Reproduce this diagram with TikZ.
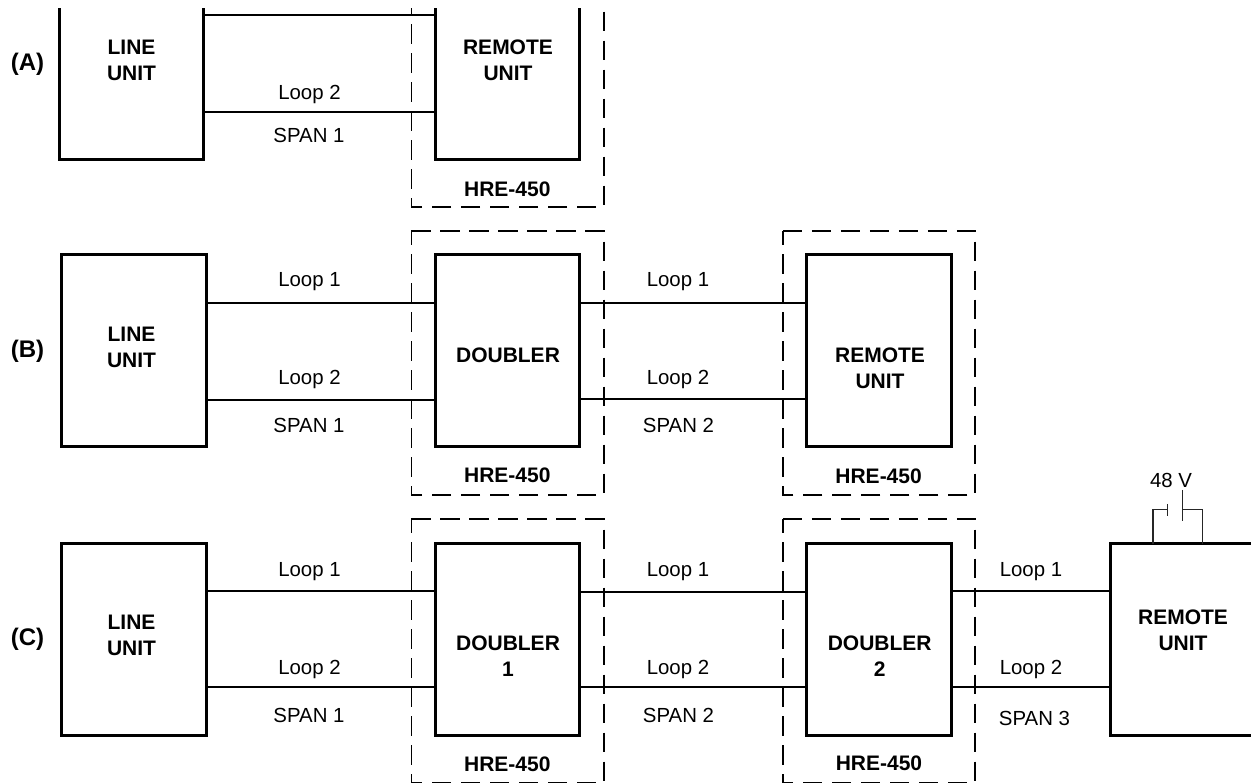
\documentclass[tikz,border=0pt]{standalone}
\usepackage{fontspec}
\setmainfont{Liberation Sans}
\tikzset{
  x=1pt,y=-1pt,
  unitbox/.style={draw=black,line width=3pt,outer sep=0pt,inner sep=0pt,minimum width=145pt,minimum height=192pt,anchor=north west},
  narrowbox/.style={unitbox,minimum width=144pt},
  wire/.style={draw=black,line width=1.9pt},
  thinwire/.style={draw=black!85,line width=1.3pt},
  dashnode/.style={outer sep=0pt,inner sep=0pt,minimum width=192.3pt,minimum height=264pt,anchor=north west},
  dashline/.style={draw=black,line width=1.8pt,dash pattern=on 19.5pt off 9.5pt},
  lbl/.style={font=\fontsize{20.4}{26}\selectfont,inner sep=0pt},
  blbl/.style={font=\fontsize{21}{26}\selectfont\bfseries,inner sep=0pt,align=center},
  rowlbl/.style={font=\fontsize{24}{26}\selectfont\bfseries,inner sep=0pt},
}
\newcommand{\dashround}[1]{\draw[dashline] (#1.north west) -- (#1.north east) -- (#1.south east) -- (#1.south west) -- cycle;}
\begin{document}
\begin{tikzpicture}
\useasboundingbox (0,0) rectangle (1251,783);
\begin{scope}
\clip (0,9) rectangle (1251,783);
% row A
\node[narrowbox] (al) at (59.5,-32.5) {};
\node[narrowbox] (ar) at (435.5,-32.5) {};
\draw[wire] (al.east |- 0,15) -- (ar.west |- 0,15);
\draw[wire] (al.east |- 0,112) -- (ar.west |- 0,112);
\node[dashnode] (ad) at (411.4,-57) {};
\dashround{ad}
% row B
\node[unitbox] (bl) at (61.5,254.5) {};
\node[narrowbox] (bd) at (435.5,254.5) {};
\node[unitbox] (br) at (806.5,254.5) {};
\draw[wire] (bl.east |- 0,303) -- (bd.west |- 0,303);
\draw[wire] (bl.east |- 0,400) -- (bd.west |- 0,400);
\draw[wire] (bd.east |- 0,303) -- (br.west |- 0,303);
\draw[wire] (bd.east |- 0,399) -- (br.west |- 0,399);
\node[dashnode] (bd1) at (411.4,231) {};
\node[dashnode] (bd2) at (782.8,231) {};
\dashround{bd1}
\dashround{bd2}
% row C
\node[unitbox] (cl) at (61.5,543.5) {};
\node[narrowbox] (c1) at (435.5,543.5) {};
\node[unitbox] (c2) at (806.5,543.5) {};
\node[unitbox,minimum width=180pt] (cr) at (1110.5,543.5) {};
\draw[wire] (cl.east |- 0,591) -- (c1.west |- 0,591);
\draw[wire] (cl.east |- 0,687) -- (c1.west |- 0,687);
\draw[wire] (c1.east |- 0,592) -- (c2.west |- 0,592);
\draw[wire] (c1.east |- 0,687) -- (c2.west |- 0,687);
\draw[wire] (c2.east |- 0,591) -- (cr.west |- 0,591);
\draw[wire] (c2.east |- 0,687) -- (cr.west |- 0,687);
\node[dashnode] (cd1) at (411.4,519) {};
\node[dashnode] (cd2) at (782.8,519) {};
\dashround{cd1}
\dashround{cd2}
\end{scope}
% row letters
\node[rowlbl] (la) at (27.5,64) {(A)};
\node[rowlbl] (lb) at (27.5,351.5) {(B)};
\node[rowlbl] (lc) at (27.5,639) {(C)};
% A texts
\node[blbl] (alt) at (131.5,60.5) {LINE\\UNIT};
\node[blbl] (art) at (508,60.5) {REMOTE\\UNIT};
\node[lbl] (a2) at (309.5,94.6) {Loop 2};
\node[lbl] (as) at (309,135.3) {SPAN 1};
\node[blbl] (ah) at (507.3,189) {HRE-450};
% B texts
\node[blbl] (blt) at (131.5,347.2) {LINE\\UNIT};
\node[blbl] (bdt) at (508,354.8) {DOUBLER};
\node[blbl] (brt) at (880,368.2) {REMOTE\\UNIT};
\node[lbl] (b11) at (309.5,281.5) {Loop 1};
\node[lbl] (b12) at (309.5,379.5) {Loop 2};
\node[lbl] (bs1) at (309,425.5) {SPAN 1};
\node[blbl] (bh1) at (507.3,475) {HRE-450};
\node[lbl] (b21) at (678,281.7) {Loop 1};
\node[lbl] (b22) at (678,379.7) {Loop 2};
\node[lbl] (bs2) at (678.5,425.5) {SPAN 2};
\node[blbl] (bh2) at (878.6,476) {HRE-450};
% C texts
\node[blbl] (clt) at (131.5,635.5) {LINE\\UNIT};
\node[blbl] (c1t) at (508,656.5) {DOUBLER\\1};
\node[blbl] (c2t) at (879.7,656.5) {DOUBLER\\2};
\node[blbl] (crt) at (1183,630.5) {REMOTE\\UNIT};
\node[lbl] (c11) at (309.5,571.5) {Loop 1};
\node[lbl] (c12) at (309.5,669.5) {Loop 2};
\node[lbl] (cs1) at (309,715.5) {SPAN 1};
\node[blbl] (ch1) at (507.3,764) {HRE-450};
\node[lbl] (c21) at (678,572) {Loop 1};
\node[lbl] (c22) at (678,669.5) {Loop 2};
\node[lbl] (cs2) at (678.5,715) {SPAN 2};
\node[blbl] (ch2) at (879,763.3) {HRE-450};
\node[lbl] (c31) at (1031,571.6) {Loop 1};
\node[lbl] (c32) at (1031,669.5) {Loop 2};
\node[lbl] (cs3) at (1034.5,718.5) {SPAN 3};
% battery
\node[lbl] (v) at (1171,480) {48 V};
\coordinate (p1a) at (1167.5,504); \coordinate (p1b) at (1167.5,516);
\coordinate (p2a) at (1182.5,490); \coordinate (p2b) at (1182.5,521);
\coordinate (t1) at (1153,509.5); \coordinate (t2) at (1202.5,509.5);
\draw[thinwire] (t1 |- cr.north) -- (t1) -- (t1 -| p1a);
\draw[thinwire] (p1a) -- (p1b);
\draw[thinwire] (p2a) -- (p2b);
\draw[thinwire] (t1 -| p2a) -- (t2) -- (t2 |- cr.north);
\end{tikzpicture}
\end{document}
